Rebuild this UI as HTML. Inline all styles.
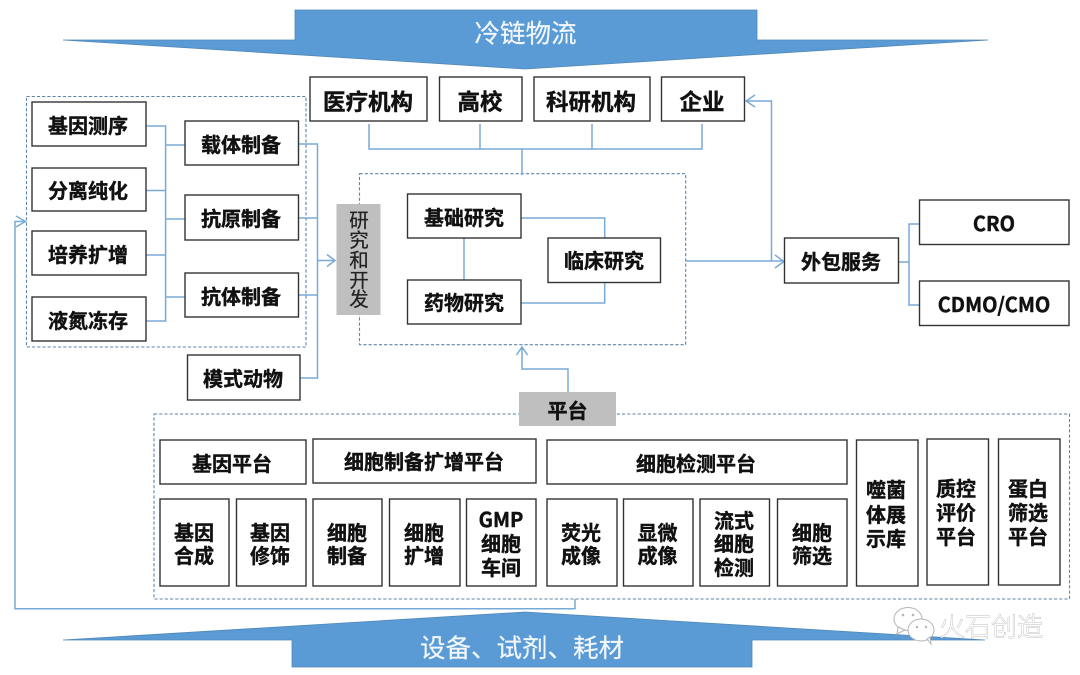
<!DOCTYPE html>
<html lang="zh">
<head>
<meta charset="utf-8">
<style>
html,body{margin:0;padding:0;background:#fff;width:1080px;height:675px;overflow:hidden}
svg{display:block;filter:blur(.3px)}
text{font-family:"Liberation Sans","Noto Sans CJK SC",sans-serif}
.b rect{fill:#fff;stroke:#333;stroke-width:1.4}
.l{fill:none;stroke:#78aad8;stroke-width:1.5}
.d{fill:none;stroke:#5d86a8;stroke-width:1.1;stroke-dasharray:3.2 2}
.t text{font-family:"Noto Sans CJK SC","Liberation Sans",sans-serif;font-weight:700;font-size:20px;fill:#111;stroke:#111;stroke-width:.4;text-anchor:middle}
.t text.big{font-size:22.5px}
.w{font-family:"Noto Sans CJK SC",sans-serif;font-size:25.5px;fill:#f2f7fc;stroke:#f2f7fc;stroke-width:.2;text-anchor:middle}
</style>
</head>
<body>
<svg width="1080" height="675" viewBox="0 0 1080 675" xmlns="http://www.w3.org/2000/svg">
<!-- banners -->
<polygon points="295,10 757,10 757,40 988,40 525,69 63,40 295,40" fill="#5b9bd5" stroke="#4f88b8" stroke-width="0.8"/>
<polygon points="292,640 63,640 525,612 985,640 752,640 752,667 292,667" fill="#5b9bd5" stroke="#4f88b8" stroke-width="0.8"/>
<text class="w" x="525.5" y="42.5">冷链物流</text>
<text class="w" x="522" y="657">设备、试剂、耗材</text>

<!-- dashed groups -->
<rect class="d" x="26.5" y="96.5" width="279.5" height="250.5"/>
<rect class="d" x="359.5" y="173.7" width="326.2" height="171"/>
<rect class="d" x="154" y="414" width="915.5" height="185"/>

<!-- connectors -->
<g class="l">
<path d="M369 124V149H702V124M480 124V149M592 124V149M522 149V175"/>
<path d="M146 126H165.6V321H146M146 190.5H165.6M146 255H165.6M165.6 145H185M165.6 219H185M165.6 297H185"/>
<path d="M298.5 144H317.5V378H300M298.5 218H317.5M298.5 295H317.5M317.5 260.5H335"/>
<path d="M327 254.5L335 260.5L327 266.5"/>
<path d="M521 218H604.7V238M521 303H604.7V282.6M464 238V280"/>
<path d="M686 261H783M775 255L784 261.5L775 268"/>
<path d="M771.5 261V101H747M755 95L746 101L755 107"/>
<path d="M898.5 262H909M919.5 224H909V305H919.5"/>
<path d="M522 347V369H568V392M516.5 355L522 347L527.5 355"/>
<path d="M575 599V608.7H15V221.5H25M16 216L25.5 221.5L16 227"/>
</g>

<!-- gray labels -->
<rect x="336.5" y="204" width="44" height="111" fill="#bfbfbf"/>
<rect x="519" y="392" width="97" height="34" fill="#bfbfbf"/>

<!-- boxes -->
<g class="b">
<rect x="310" y="77" width="117" height="44"/>
<rect x="439.5" y="77" width="82.5" height="44"/>
<rect x="534" y="77" width="116" height="44"/>
<rect x="661.5" y="77" width="83" height="44"/>

<rect x="32" y="102" width="114" height="44"/>
<rect x="32" y="168" width="114" height="43"/>
<rect x="32" y="231" width="114" height="44"/>
<rect x="32" y="297" width="114" height="44"/>

<rect x="185" y="121" width="113.500" height="44"/>
<rect x="185" y="195" width="113.500" height="45"/>
<rect x="185" y="273" width="113.500" height="44"/>
<rect x="187.500" y="355" width="112.500" height="45"/>

<rect x="407.500" y="194" width="113.500" height="44"/>
<rect x="407.500" y="280" width="113.500" height="44"/>
<rect x="548" y="238" width="112.500" height="44.500"/>

<rect x="784.500" y="238" width="114" height="45"/>
<rect x="919.500" y="200" width="149.500" height="44.500"/>
<rect x="919.500" y="281" width="149.500" height="44.500"/>

<rect x="160" y="440" width="146" height="44"/>
<rect x="313" y="439" width="223" height="44"/>
<rect x="547" y="440" width="300" height="44"/>

<rect x="160" y="499" width="69" height="87"/>
<rect x="236.500" y="499" width="69.500" height="87"/>
<rect x="313" y="499" width="69" height="87"/>
<rect x="389.500" y="499" width="70.500" height="87"/>
<rect x="466.500" y="499" width="69.500" height="87"/>
<rect x="547" y="499" width="70" height="87"/>
<rect x="623.500" y="499" width="69.500" height="87"/>
<rect x="700" y="499" width="69.500" height="87"/>
<rect x="777.500" y="499" width="69.500" height="87"/>

<rect x="856.500" y="440" width="61.500" height="146"/>
<rect x="927" y="439" width="61.500" height="146"/>
<rect x="998.500" y="439" width="61.500" height="146"/>
</g>

<!-- labels -->
<g class="t">
<text class="big" x="368" y="110">医疗机构</text>
<text class="big" x="480" y="110">高校</text>
<text class="big" x="591" y="110">科研机构</text>
<text class="big" x="702" y="110">企业</text>
<text x="88" y="133">基因测序</text>
<text x="88" y="198">分离纯化</text>
<text x="88" y="262">培养扩增</text>
<text x="88" y="328">液氮冻存</text>
<text x="241" y="152">载体制备</text>
<text x="241" y="226">抗原制备</text>
<text x="241" y="304">抗体制备</text>
<text x="243" y="386">模式动物</text>
<text x="464" y="225">基础研究</text>
<text x="464" y="310">药物研究</text>
<text x="604" y="268">临床研究</text>
<text x="841" y="269">外包服务</text>
<text x="994" y="231">CRO</text>
<text x="994" y="312">CDMO/CMO</text>
<text x="567.500" y="418">平台</text>
<text x="232" y="471">基因平台</text>
<text x="424" y="469">细胞制备扩增平台</text>
<text x="696" y="471">细胞检测平台</text>

<text x="194" y="540">基因</text><text x="194" y="563">合成</text>
<text x="270" y="540">基因</text><text x="270" y="563">修饰</text>
<text x="347" y="540">细胞</text><text x="347" y="563">制备</text>
<text x="424" y="540">细胞</text><text x="424" y="563">扩增</text>
<text x="501" y="527">GMP</text><text x="501" y="551">细胞</text><text x="501" y="575">车间</text>
<text x="581" y="540">荧光</text><text x="581" y="563">成像</text>
<text x="657.500" y="540">显微</text><text x="657.500" y="563">成像</text>
<text x="734" y="528">流式</text><text x="734" y="551">细胞</text><text x="734" y="575">检测</text>
<text x="812" y="540">细胞</text><text x="812" y="563">筛选</text>
<text x="886" y="497">噬菌</text><text x="886" y="522">体展</text><text x="886" y="546">示库</text>
<text x="956" y="496">质控</text><text x="956" y="520">评价</text><text x="956" y="544">平台</text>
<text x="1028" y="496">蛋白</text><text x="1028" y="520">筛选</text><text x="1028" y="544">平台</text>
</g>

<!-- vertical gray label -->
<g style="font-family:'Noto Sans CJK SC',sans-serif;font-size:19.500px;fill:#222;stroke:#222;stroke-width:.25;text-anchor:middle">
<text x="359" y="227">研</text>
<text x="359" y="247">究</text>
<text x="359" y="267">和</text>
<text x="359" y="287">开</text>
<text x="359" y="306">发</text>
</g>

<!-- watermark -->
<g fill="#fff" stroke="#b5b5b5" stroke-width="1">
<ellipse cx="908" cy="619" rx="14" ry="11.500" fill-opacity=".85"/>
<path d="M898 627L897 634L905 630Z" fill-opacity=".85"/>
<ellipse cx="921" cy="630" rx="13" ry="11"/>
<path d="M927 639L931 644L930 637Z"/>
</g>
<g fill="#b5b5b5">
<circle cx="903" cy="615" r="1.300"/><circle cx="913" cy="615" r="1.300"/>
<circle cx="917" cy="627" r="1.200"/><circle cx="926" cy="627" r="1.200"/>
</g>
<text x="991" y="636" style="font-family:'Noto Sans CJK SC',sans-serif;font-size:26px;font-weight:300;text-anchor:middle;fill:#fff;stroke:#a8a8a8;stroke-width:.7;paint-order:stroke">火石创造</text>
</svg>
</body>
</html>
